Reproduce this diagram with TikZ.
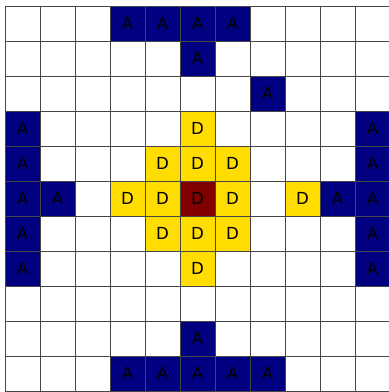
\documentclass[tikz,border=0pt]{standalone}
\usepackage{fontspec}
\setmainfont{DejaVu Sans}
\definecolor{navyA}{RGB}{0,0,128}
\definecolor{goldD}{RGB}{255,221,0}
\definecolor{redD}{RGB}{128,0,0}
\definecolor{gridline}{RGB}{70,70,70}
\begin{document}
\begin{tikzpicture}[
        x=1cm, y=-1cm,
        every node/.style={draw=gridline, line width=0.7pt, minimum size=1cm, inner sep=0pt, font=\fontsize{13.5}{15}\selectfont},
        blank/.style={fill=white},
        acell/.style={fill=navyA, text=black},
        dcell/.style={fill=goldD},
        centre/.style={fill=redD},
    ]
    \useasboundingbox (-0.143,-0.171) rectangle (10.943,11.029);

    % empty board
    \foreach \r in {0,...,10}
        \foreach \c in {0,...,10}
            \node[blank] (cell-\r-\c) at (\c+0.5,\r+0.5) {};

    % A cells
    \foreach \r/\c in {0/3,0/4,0/5,0/6,1/5,2/7,
                       3/0,4/0,5/0,5/1,6/0,7/0,
                       3/10,4/10,5/9,5/10,6/10,7/10,
                       9/5,10/3,10/4,10/5,10/6,10/7}
        \node[acell] (a-\r-\c) at (\c+0.5,\r+0.5) {A};

    % D cells
    \foreach \r/\c in {3/5,4/4,4/5,4/6,5/3,5/4,5/6,5/8,6/4,6/5,6/6,7/5}
        \node[dcell] (d-\r-\c) at (\c+0.5,\r+0.5) {D};

    \node[centre] (d-5-5) at (5.5,5.5) {D};

    \end{tikzpicture}
\end{document}
